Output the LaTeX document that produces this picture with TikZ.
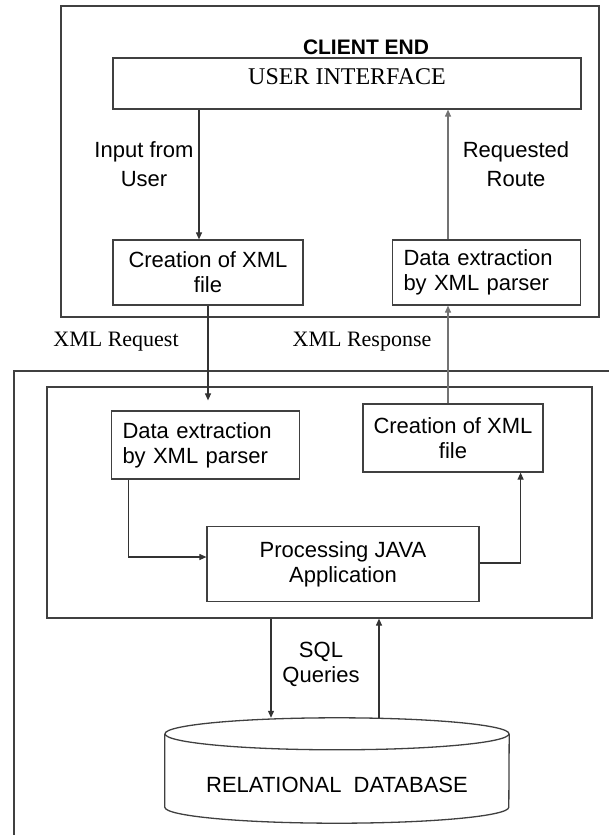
\documentclass[tikz,border=0pt]{standalone}
\usepackage{fontspec}
\setmainfont{Liberation Serif}
\setsansfont{Liberation Sans}
\usetikzlibrary{arrows.meta}

\tikzset{
  box/.style={draw=black!75, line width=1.2pt, inner sep=0pt, align=center,
    font=\sffamily\fontsize{22}{25}\selectfont},
  lbox/.style={box, align=left, text width=166pt, inner xsep=11pt},
  lbl/.style={font=\sffamily\fontsize{22}{25}\selectfont, align=center, inner sep=0pt},
  rlbl/.style={font=\rmfamily\fontsize{22}{25}\selectfont, inner sep=0pt},
  arr/.style={draw=black!80, line width=1.1pt, -{Triangle[length=7pt,width=6pt]}},
  frame/.style={draw=black!75, line width=1.3pt},
}

\begin{document}
\begin{tikzpicture}[x=1pt,y=-1pt]
  \useasboundingbox (0,0) rectangle (608,835);

  % client end
  \draw[frame] (61,6) rectangle (599,317);
  \node[font=\sffamily\bfseries\fontsize{21}{24}\selectfont] (cend) at (366,47) {CLIENT END};
  \node[box, font=\rmfamily\fontsize{24}{28}\selectfont, minimum width=468, minimum height=51,
    text depth=13pt] (ui) at (347,83.5) {USER INTERFACE};
  \node[box, minimum width=190, minimum height=65] (cxc) at (208,272.5) {Creation of XML\\file};
  \node[lbox, minimum height=65] (dxc) at (486.5,272.5) {Data extraction\\by XML parser};

  % server side
  \draw[frame] (14,840) -- (14,371) -- (612,371);
  \node[box, minimum width=545, minimum height=231] (srv) at (319.5,502.5) {};
  \node[lbox, minimum height=68] (dxs) at (205.5,445) {Data extraction\\by XML parser};
  \node[box, minimum width=180, minimum height=68] (cxs) at (453,438) {Creation of XML\\file};
  \node[box, minimum width=272, minimum height=75] (proc) at (343,564) {Processing JAVA\\Application};

  % database
  \node[lbl, minimum width=344, minimum height=105, text height=44pt, text depth=0pt]
    (db) at (337,770.5) {RELATIONAL\ \ DATABASE};
  \draw[frame] ([yshift=-16]db.north) ellipse [x radius=172, y radius=16];
  \draw[frame] ([yshift=-16]db.north west) -- ([yshift=16]db.south west)
    arc[start angle=180, end angle=0, x radius=172, y radius=16] -- ([yshift=-16]db.north east);

  % labels
  \node[lbl] (inp) at (144,164) {Input from\\[4pt]User};
  \node[lbl] (rte) at (516,164) {Requested\\[4pt]Route};
  \node[rlbl] (xreq) at (116,342) {XML Request};
  \node[rlbl] (xres) at (362,342) {XML Response};
  \node[lbl] (sql) at (321,664) {SQL\\Queries};

  % arrows
  \coordinate (lx) at (199,0);
  \coordinate (rx) at (448,0);
  \coordinate (qd) at (271,0);
  \coordinate (qu) at (379,0);
  \draw[arr] (ui.south -| lx) -- (cxc.north -| lx);
  \draw[arr, draw=black!55] (dxc.north -| rx) -- (ui.south -| rx);
  \draw[arr] (cxc.south) -- ([yshift=10]dxs.north -| cxc.south);
  \draw[arr, draw=black!55] (cxs.north -| rx) -- (dxc.south -| rx);
  \draw[arr] ([xshift=18]dxs.south west) |- ([yshift=7]proc.west);
  \draw[arr] ([yshift=1]proc.east) -| ([xshift=-23]cxs.south east);
  \draw[arr] (srv.south -| qd) -- (db.north -| qd);
  \draw[arr] (db.north -| qu) -- (srv.south -| qu);
\end{tikzpicture}
\end{document}
